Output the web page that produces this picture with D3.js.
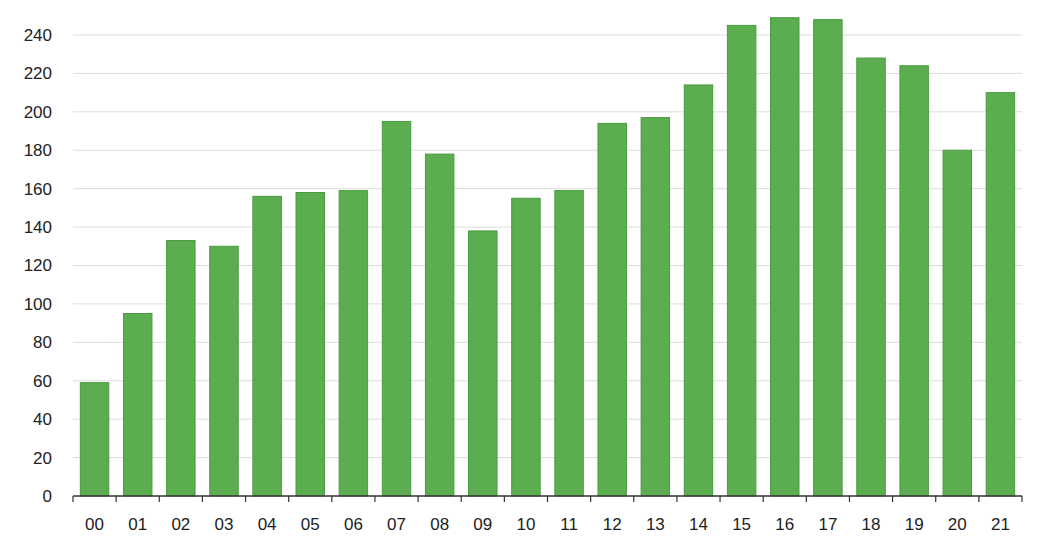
<!DOCTYPE html>
<html>
<head>
<meta charset="utf-8">
<script src="https://cdn.jsdelivr.net/npm/d3@7"></script>
<style>
  body { margin: 0; background: #fff; }
  text { font-family: "Liberation Sans", Arial, sans-serif; }
</style>
</head>
<body>
<div id="chart"></div>
<script>
// data
const years = ["00","01","02","03","04","05","06","07","08","09","10","11","12","13","14","15","16","17","18","19","20","21"];
const values = [59, 95, 133, 130, 156, 158, 159, 195, 178, 138, 155, 159, 194, 197, 214, 245, 249, 248, 228, 224, 180, 210];
const yTicks = [0, 20, 40, 60, 80, 100, 120, 140, 160, 180, 200, 220, 240];

const width = 1041, height = 545;
const margin = {top: 35, right: 19, bottom: 49, left: 73};

const svg = d3.select("#chart").append("svg")
    .attr("width", width)
    .attr("height", height);

const x = d3.scaleBand()
    .domain(years)
    .range([margin.left, width - margin.right])
    .paddingInner(0.34)
    .paddingOuter(0.17);

const y = d3.scaleLinear()
    .domain([0, 240])
    .range([height - margin.bottom, margin.top]);

// gridlines
svg.append("g")
    .selectAll("line")
    .data(yTicks.slice(1))
    .join("line")
    .attr("x1", margin.left)
    .attr("x2", width - margin.right)
    .attr("y1", d => y(d))
    .attr("y2", d => y(d))
    .attr("stroke", "#dcdcdc")
    .attr("stroke-width", 1);

// y labels
svg.append("g")
    .selectAll("text")
    .data(yTicks)
    .join("text")
    .attr("x", 52)
    .attr("y", d => y(d))
    .attr("dy", "0.35em")
    .attr("text-anchor", "end")
    .attr("font-size", 17)
    .attr("fill", "#222")
    .text(d => d);

// bars
svg.append("g")
    .selectAll("rect")
    .data(values)
    .join("rect")
    .attr("x", (d, i) => x(years[i]))
    .attr("y", d => y(d))
    .attr("width", x.bandwidth())
    .attr("height", d => y(0) - y(d))
    .attr("fill", "#5cad50")
    .attr("stroke", "#4b9a41")
    .attr("stroke-width", 1);

// x axis with ticks between categories
const xAxis = svg.append("g")
    .attr("transform", `translate(0,${y(0)})`);

xAxis.append("line")
    .attr("x1", margin.left)
    .attr("x2", width - margin.right)
    .attr("stroke", "#333")
    .attr("stroke-width", 1.5);

const step = x.step();
xAxis.selectAll(".tk")
    .data(d3.range(years.length + 1))
    .join("line")
    .attr("class", "tk")
    .attr("x1", i => margin.left + i * (width - margin.right - margin.left) / years.length)
    .attr("x2", i => margin.left + i * (width - margin.right - margin.left) / years.length)
    .attr("y1", 0)
    .attr("y2", 6)
    .attr("stroke", "#333")
    .attr("stroke-width", 1.2);

xAxis.selectAll("text")
    .data(years)
    .join("text")
    .attr("x", d => x(d) + x.bandwidth() / 2)
    .attr("y", 34)
    .attr("text-anchor", "middle")
    .attr("font-size", 17)
    .attr("fill", "#222")
    .text(d => d);
</script>
</body>
</html>
